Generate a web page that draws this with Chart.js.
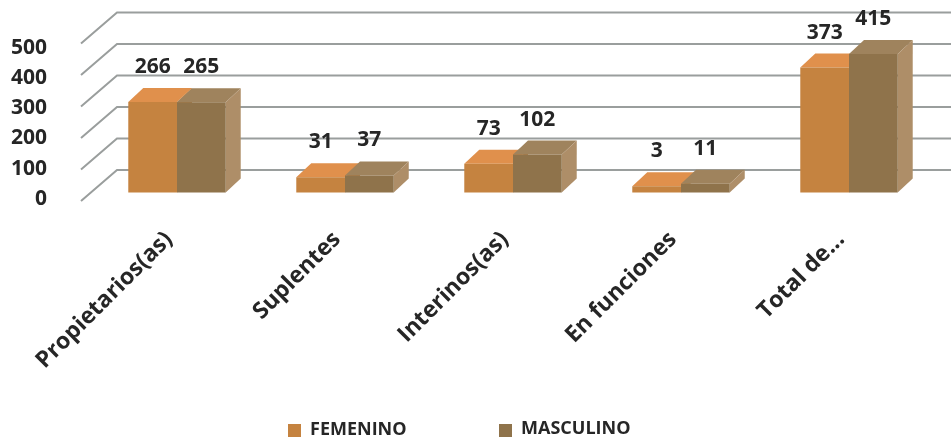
<!DOCTYPE html>
<html>
<head>
<meta charset="utf-8">
<title>Personal por condición</title>
<script src="https://cdn.jsdelivr.net/npm/chart.js@4"></script>
<style>
  html, body { margin: 0; background: #fff; }
  canvas { display: block; }
</style>
</head>
<body>
<canvas id="chart" width="951" height="437"></canvas>
<script>
const categories = ['Propietarios(as)', 'Suplentes', 'Interinos(as)', 'En funciones', 'Total de...'];
const femenino = [266, 31, 73, 3, 373];
const masculino = [265, 37, 102, 11, 415];
const tickValues = [0, 100, 200, 300, 400, 500];

const textColor = '#262626';
const fontName = '"Open Sans", sans-serif';

const faces = [
    { front: '#c58340', top: '#e0904c', side: '#c58340' },
    { front: '#8f734b', top: '#9f835d', side: '#ae8e68' }
];

function fixedTicks(scale) {
    scale.ticks = tickValues.map(v => ({ value: v }));
}

function poly(ctx, pts, fill) {
    ctx.beginPath();
    pts.forEach((p, i) => i ? ctx.lineTo(p[0], p[1]) : ctx.moveTo(p[0], p[1]));
    ctx.closePath();
    ctx.fillStyle = fill;
    ctx.fill();
}

// the 3d look: back wall lines, then top and side of each bar
const depth = {
    id: 'depth',
    beforeDatasetsDraw(chart) {
        const ctx = chart.ctx;
        const grid = chart.scales.yGrid;
        const left = chart.chartArea.left - 12;
        ctx.save();
        ctx.strokeStyle = '#9a9e9d';
        ctx.lineWidth = 2;
        tickValues.forEach(v => {
            const y = grid.getPixelForValue(v);
            ctx.beginPath();
            ctx.moveTo(left, y);
            ctx.lineTo(left + 36, y - 31);
            ctx.lineTo(chart.width, y - 31);
            ctx.stroke();
        });
        const dx = 15, dy = 14;
        chart.data.datasets.forEach((ds, i) => {
            chart.getDatasetMeta(i).data.forEach(bar => {
                const l = bar.x - bar.width / 2;
                const r = bar.x + bar.width / 2;
                poly(ctx, [[l, bar.y], [l + dx, bar.y - dy], [r + dx, bar.y - dy], [r, bar.y]], faces[i].top);
                poly(ctx, [[r, bar.y], [r + dx, bar.y - dy], [r + dx, bar.base - dy], [r, bar.base]], faces[i].side);
            });
        });
        ctx.restore();
    },
    afterDatasetsDraw(chart) {
        const ctx = chart.ctx;
        ctx.save();
        ctx.fillStyle = textColor;
        ctx.font = 'bold 21px ' + fontName;
        ctx.textAlign = 'center';
        ctx.textBaseline = 'middle';
        chart.data.datasets.forEach((ds, i) => {
            chart.getDatasetMeta(i).data.forEach((bar, j) => {
                ctx.fillText(ds.data[j], bar.x, bar.y - 35);
            });
        });
        ctx.restore();
    },
    afterDraw(chart) {
        // legend sits off centre in the original, so it is placed by hand
        const ctx = chart.ctx;
        const boxX = [288, 499];
        ctx.save();
        ctx.font = 'bold 18px ' + fontName;
        ctx.textBaseline = 'middle';
        chart.data.datasets.forEach((ds, i) => {
            ctx.fillStyle = ds.backgroundColor;
            ctx.fillRect(boxX[i], 424, 13, 13);
            ctx.fillStyle = textColor;
            ctx.fillText(ds.label, boxX[i] + 22, 430 - i);
        });
        ctx.restore();
    }
};

new Chart(document.getElementById('chart'), {
    type: 'bar',
    data: {
        labels: categories,
        datasets: [
            { label: 'FEMENINO', data: femenino, backgroundColor: faces[0].front, yAxisID: 'yBars', base: -16 },
            { label: 'MASCULINO', data: masculino, backgroundColor: faces[1].front, yAxisID: 'yBars', base: -16 }
        ]
    },
    options: {
        responsive: false,
        animation: false,
        categoryPercentage: 0.58,
        barPercentage: 1,
        layout: { autoPadding: false, padding: { top: 15, right: 18 } },
        plugins: { legend: { display: false }, tooltip: { enabled: false } },
        scales: {
            x: {
                grid: { display: false },
                border: { display: false },
                afterFit(scale) { scale.height = 237; },
                ticks: {
                    autoSkip: false,
                    minRotation: 45,
                    maxRotation: 45,
                    padding: 18,
                    labelOffset: -8,
                    color: textColor,
                    font: { family: fontName, size: 23, weight: 'bold' }
                }
            },
            // chart area ends up at y 50..199, these ranges are set for that.
            // bars stand a little further back than the front of the floor
            yBars: { display: false, min: -39.7, max: 425.9 },
            yGrid: { display: false, min: 3.18, max: 477.7 },
            yLabels: {
                position: 'left',
                min: -3.3,
                max: 490,
                afterBuildTicks: fixedTicks,
                afterFit(scale) { scale.width = 93; },
                grid: { display: false },
                border: { display: false },
                ticks: {
                    padding: 38,
                    color: textColor,
                    font: { family: fontName, size: 21, weight: 'bold' }
                }
            }
        }
    },
    plugins: [depth]
});
</script>
</body>
</html>
